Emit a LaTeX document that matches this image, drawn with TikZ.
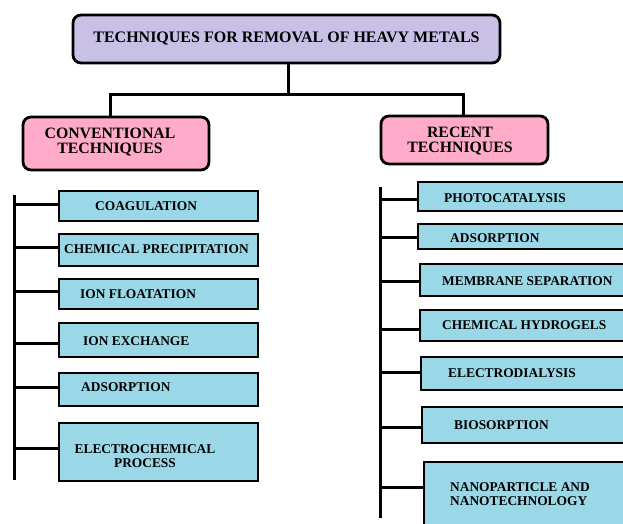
\documentclass[tikz,border=0pt]{standalone}
\usepackage{fontspec}
\setmainfont{Liberation Serif}

\definecolor{toplilac}{RGB}{201,192,230}
\definecolor{headpink}{RGB}{255,171,201}
\definecolor{itemblue}{RGB}{154,216,232}

\tikzset{
  headbox/.style={draw, line width=2.8pt, rounded corners=8pt, inner sep=0pt},
  itembox/.style={draw, line width=2.5pt, fill=itemblue, inner sep=0pt},
  branch/.style={line width=3pt},
  itemtext/.style={inner sep=0pt, font=\bfseries\fontsize{13.4}{13.5}\selectfont},
  headtext/.style={inner sep=0pt, align=center, font=\bfseries\fontsize{15.8}{15}\selectfont},
}

\begin{document}
\begin{tikzpicture}[x=1pt, y=-1pt]

\clip (0,0) rectangle (623,524);

\node[headbox, fill=toplilac, minimum width=427, minimum height=48,
  font=\bfseries\fontsize{16}{16}\selectfont] (top) at (286.5,39)
  {TECHNIQUES FOR REMOVAL OF HEAVY METALS};
\node[headbox, fill=headpink, minimum width=186, minimum height=53] (conv) at (116,143.5) {};
\node[headbox, fill=headpink, minimum width=167, minimum height=48] (recent) at (464.5,140) {};
\node[headtext] (convtext) at (110,142.5) {CONVENTIONAL\\TECHNIQUES};
\node[headtext] (recenttext) at (460,141.5) {RECENT\\TECHNIQUES};

\coordinate (jt) at (288,95);
\coordinate (jl) at (110,95);
\coordinate (jr) at (463,95);
\draw[branch] (top.south -| jt) -- (jt);
\draw[branch] (conv.north -| jl) -- (jl) -- (jr) -- (recent.north -| jr);

% conventional techniques
\node[itembox, minimum width=199, minimum height=30] (coag) at (158.5,206) {};
\node[itembox, minimum width=199, minimum height=32] (chemprec) at (158.5,250) {};
\node[itembox, minimum width=199, minimum height=30] (ionflot) at (158.5,294) {};
\node[itembox, minimum width=199, minimum height=34] (ionex) at (158.5,340) {};
\node[itembox, minimum width=199, minimum height=33] (adsl) at (158.5,389.5) {};
\node[itembox, minimum width=199, minimum height=58] (electro) at (158.5,452) {};

\node[itemtext, anchor=base west] (coagtext) at (95,210) {COAGULATION};
\node[itemtext, anchor=base west] (chemprectext) at (64,253) {CHEMICAL PRECIPITATION};
\node[itemtext, anchor=base west] (ionflottext) at (80,298) {ION FLOATATION};
\node[itemtext, anchor=base west] (ionextext) at (83,345) {ION EXCHANGE};
\node[itemtext, anchor=base west] (adsltext) at (81,391) {ADSORPTION};
\node[itemtext, align=center] (electrotext) at (145,456) {ELECTROCHEMICAL\\PROCESS};

\coordinate (ltop) at (14,195);
\coordinate (lbot) at (14,480);
\draw[branch] (ltop) -- (lbot);
\foreach \n/\y in {coag/204, chemprec/247, ionflot/291, ionex/343, adsl/387, electro/448} {
  \coordinate (l\n) at (14,\y);
  \draw[branch] (l\n) -- (l\n -| \n.west);
}

% recent techniques
\node[itembox, minimum width=222, minimum height=29] (photo) at (529,196.5) {};
\node[itembox, minimum width=222, minimum height=25] (adsr) at (529,236.5) {};
\node[itembox, minimum width=220, minimum height=32] (memb) at (530,280) {};
\node[itembox, minimum width=220, minimum height=31] (hydro) at (530,325.5) {};
\node[itembox, minimum width=219, minimum height=33] (elecd) at (530.5,373.5) {};
\node[itembox, minimum width=218, minimum height=36] (bios) at (531,425) {};
\node[itembox, minimum width=216, minimum height=78] (nano) at (532,501) {};

\node[itemtext, anchor=base west] (phototext) at (444,202) {PHOTOCATALYSIS};
\node[itemtext, anchor=base west] (adsrtext) at (450,242) {ADSORPTION};
\node[itemtext, anchor=base west] (membtext) at (442,285) {MEMBRANE SEPARATION};
\node[itemtext, anchor=base west] (hydrotext) at (442,329) {CHEMICAL HYDROGELS};
\node[itemtext, anchor=base west] (elecdtext) at (448,377) {ELECTRODIALYSIS};
\node[itemtext, anchor=base west] (biostext) at (454,429) {BIOSORPTION};
\node[itemtext, align=left] (nanotext) at (520,494) {NANOPARTICLE AND\\NANOTECHNOLOGY};

\coordinate (rtop) at (380,187);
\coordinate (rbot) at (380,518);
\draw[branch] (rtop) -- (rbot);
\foreach \n/\y in {photo/199, adsr/237, memb/281, hydro/329, elecd/372, bios/427, nano/487} {
  \coordinate (r\n) at (380,\y);
  \draw[branch] (r\n) -- (r\n -| \n.west);
}

\end{tikzpicture}
\end{document}
